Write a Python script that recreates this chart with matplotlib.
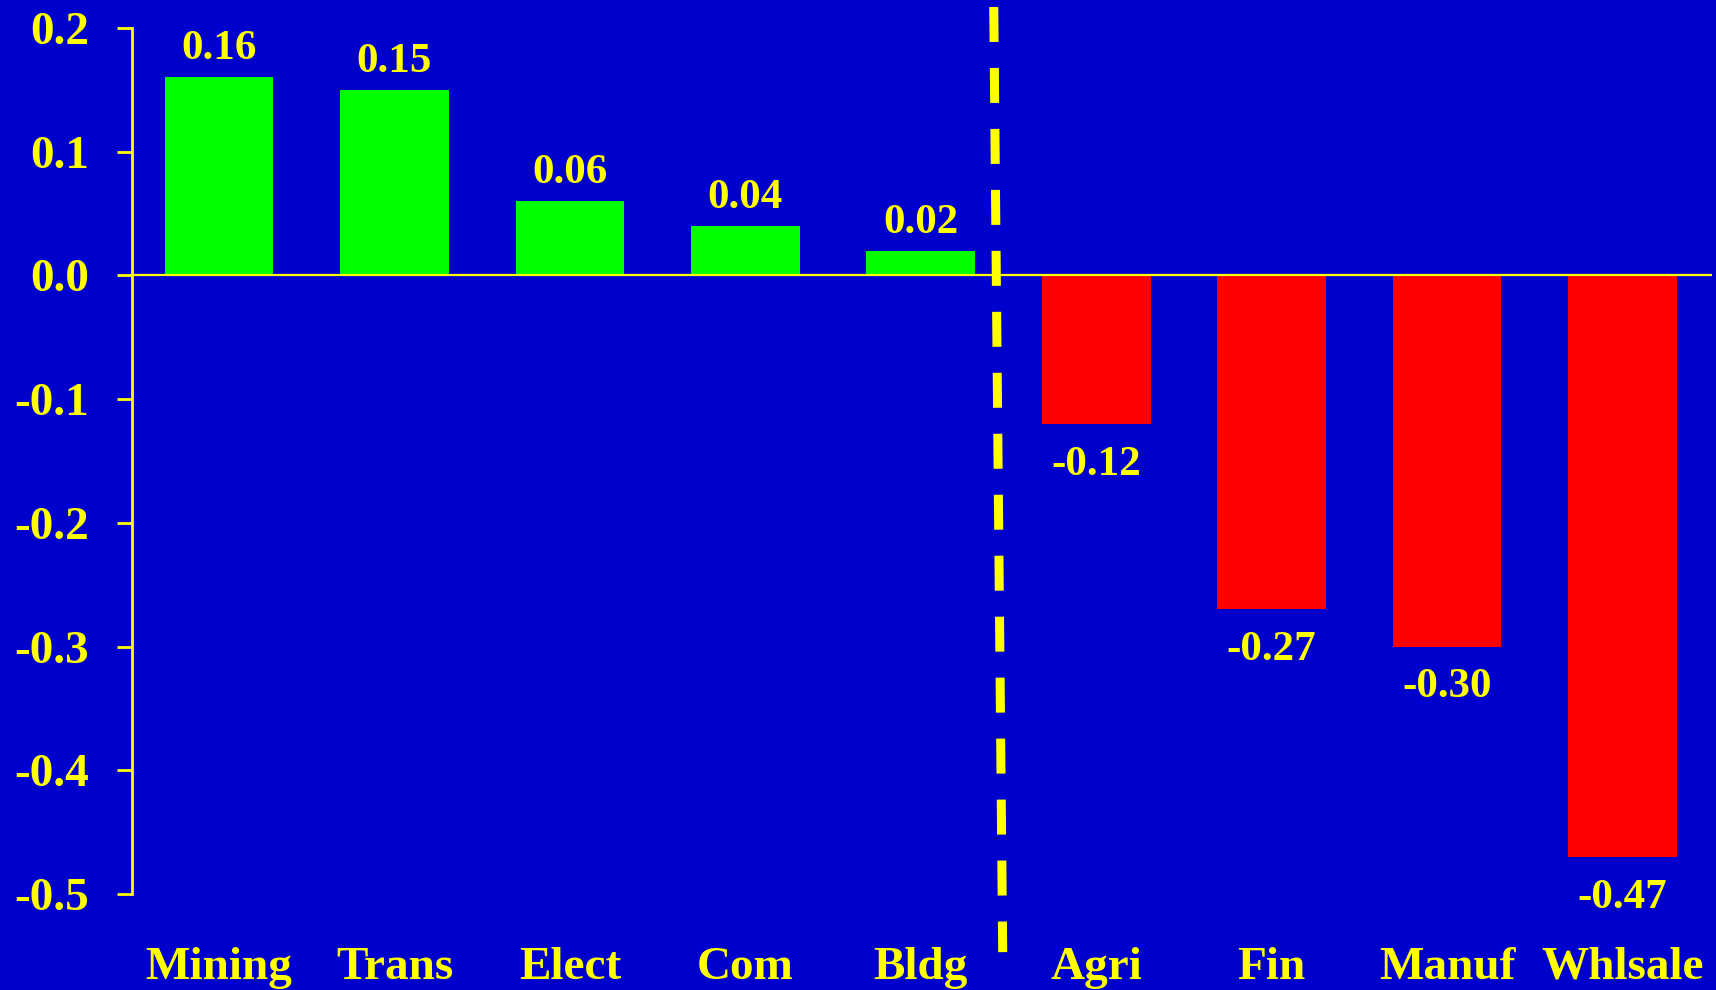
import matplotlib.pyplot as plt

# sector changes, gainers first then losers
sectors = ['Mining', 'Trans', 'Elect', 'Com', 'Bldg', 'Agri', 'Fin', 'Manuf', 'Whlsale']
change = [0.16, 0.15, 0.06, 0.04, 0.02, -0.12, -0.27, -0.30, -0.47]
labels = ['0.16', '0.15', '0.06', '0.04', '0.02', '-0.12', '-0.27', '-0.30', '-0.47']
yticks = [0.2, 0.1, 0.0, -0.1, -0.2, -0.3, -0.4, -0.5]

BG = '#0000CC'
YEL = '#FFFF00'

plt.rcParams['font.family'] = ['Liberation Serif', 'DejaVu Serif']
plt.rcParams['font.weight'] = 'bold'
plt.rcParams['lines.scale_dashes'] = False

fig = plt.figure(figsize=(17.16, 9.9), dpi=100, facecolor=BG)
ax = fig.add_axes([132 / 1716, 1 - 894 / 990, (1712 - 132) / 1716, (894 - 28) / 990])
ax.set_facecolor(BG)

x = range(len(sectors))
colors = ['#00FF00' if v > 0 else '#FF0000' for v in change]
ax.bar(x, change, width=0.62, color=colors, zorder=2)

for i, (v, s) in enumerate(zip(change, labels)):
    off = 13 if v > 0 else -36.5
    ax.annotate(s, (i, v), xytext=(0, off), textcoords='offset points',
                ha='center', va='baseline', color=YEL, fontsize=31, fontweight='bold')

ax.axhline(0, color=YEL, lw=1.6, zorder=3)

# divider between positive and negative sectors
ax.plot([4.416, 4.467], [0.217, -0.547], color=YEL, lw=6.5, dashes=(25.2, 18.7),
        solid_capstyle='butt', dash_capstyle='butt', clip_on=False, zorder=4)

ax.set_xlim(-0.496, 8.51)
ax.set_ylim(-0.5, 0.2)
ax.set_yticks(yticks)
ax.set_yticklabels([f'{t:.1f}' for t in yticks])
ax.set_xticks(list(x))
ax.set_xticklabels(sectors)

for side in ['top', 'right', 'bottom']:
    ax.spines[side].set_visible(False)
ax.spines['left'].set_color(YEL)
ax.spines['left'].set_linewidth(2)

ax.tick_params(axis='y', colors=YEL, length=11, width=2, pad=20, labelsize=34)
ax.tick_params(axis='x', colors=YEL, length=0, pad=38, labelsize=34)
for t in ax.get_xticklabels() + ax.get_yticklabels():
    t.set_fontweight('bold')

fig.savefig('out.png', dpi=100, facecolor=BG)
